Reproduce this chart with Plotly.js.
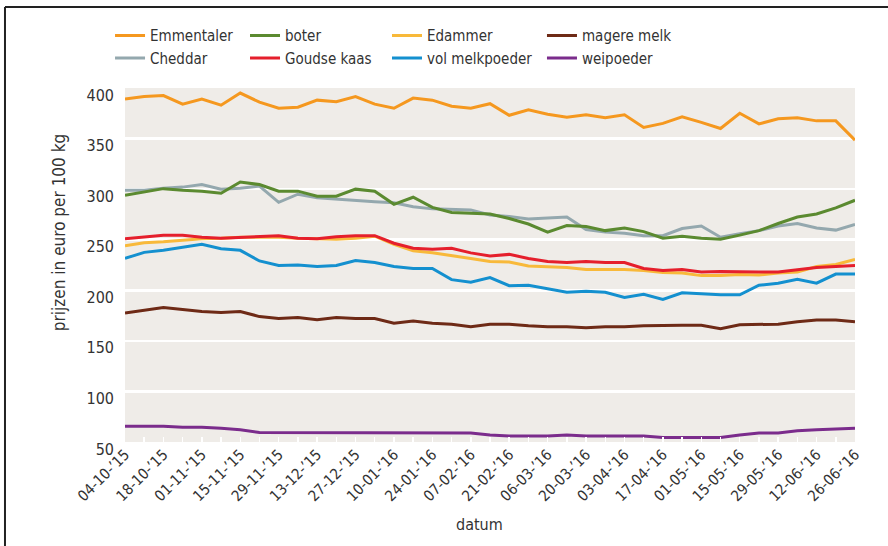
<!DOCTYPE html>
<html><head><meta charset="utf-8">
<script src="https://cdn.plot.ly/plotly-3.0.1.min.js"></script>
<style>html,body{margin:0;padding:0;background:#fff}#chart{width:888px;height:546px}</style>
</head><body><div id="chart"></div>
<script>
const dates = ['2015-10-04','2015-10-11','2015-10-18','2015-10-25','2015-11-01','2015-11-08','2015-11-15','2015-11-22','2015-11-29','2015-12-06','2015-12-13','2015-12-20','2015-12-27','2016-01-03','2016-01-10','2016-01-17','2016-01-24','2016-01-31','2016-02-07','2016-02-14','2016-02-21','2016-02-28','2016-03-06','2016-03-13','2016-03-20','2016-03-27','2016-04-03','2016-04-10','2016-04-17','2016-04-24','2016-05-01','2016-05-08','2016-05-15','2016-05-22','2016-05-29','2016-06-05','2016-06-12','2016-06-19','2016-06-26'];

const emmentaler = [389,391.5,392.5,384,389,383,395,386,380,381,388,386.5,391.5,384,380,390,388,382,380,384.5,373,378.5,374,371,373.5,370.5,373.5,361,365,371.5,366,360,375,364.5,369.5,370.5,367.5,367.5,348.5];
const cheddar = [299,299,301,302,304.5,300,301,303,287,295,291.5,290,288.5,287.5,286.5,282.5,280.5,280,279.5,274.5,273,270.5,271.5,272.5,260,257.5,256.5,254,254,261,263.5,252.5,256,259,263.5,266,261.5,259.5,265];
const boter = [294,297,300.5,299,298,296,307,304.5,298,298,293,293,300,298,285,292,282,277,276,275.5,271,265.5,257.5,264,263,259,261.5,258,251.5,253.5,251.5,250.5,254.5,259,266,272.5,275.5,281.5,289];
const goudse = [251,253,254.5,254.5,252.5,251.5,252.5,253,254,251.5,251,253,254,254,246.5,241.5,240.5,241.5,237,234,235.5,231.5,228.5,227.5,228.5,227.5,227.5,221.5,219.5,220.5,218,218.5,218,218,218,220,222.5,223.5,224.5];
const edammer = [244,247,248,249.5,251,251.5,252.5,252.5,252.5,251.5,251,250.5,251.5,253.5,245.5,239,237,234.5,231.5,228.5,228,224,223,222.5,220.5,220.5,220.5,219.5,217.5,217,214.5,214.5,215.5,215,217,218,223.5,225.5,230.5];
const volmelk = [231.5,237.5,239.5,242.5,245.5,241,239.5,229,224.5,225,223.5,224.5,229.5,227.5,223.5,221.5,221.5,210.5,208,212.5,204.5,205,201.5,198,199,198,193,196,191,197.5,196.5,195.5,195.5,205,207,211,207,216,216];
const magere = [177.5,180,183,181,179,178,179,174,172,173,171,173,172,172,167.5,169.5,167.5,166.5,164,166.5,166.5,165,164,164,163,164,164,165,165.5,165.5,165.5,162,166,166,166.5,169,170.5,170.5,169];
const wei = [65.5,65.5,65.5,64.5,64.5,63.5,62,59.5,59.5,59.5,59.5,59.5,59.5,59.5,59.5,59,59,59,59,57,56,56,56,57,56,56,56,56,54.5,54.5,54.5,54.5,57,59,59,61,62,62.5,63.5];

const FONT = "'Liberation Sans Narrow','Arial Narrow','DejaVu Sans Condensed','Roboto Condensed',sans-serif";
const TXT = '#333333';

function tr(name, y, color, legend, rank) {
  return {x: dates, y: y, name: name, type: 'scatter', mode: 'lines',
          line: {color: color, width: 3}, legend: legend, legendrank: rank, hoverinfo: 'x+y+name'};
}

const data = [
  tr('Cheddar', cheddar, '#94a8ae', 'legend', 2),
  tr('boter', boter, '#5b8a30', 'legend2', 1),
  tr('Edammer', edammer, '#f8b93a', 'legend3', 1),
  tr('Goudse kaas', goudse, '#e51f2c', 'legend2', 2),
  tr('vol melkpoeder', volmelk, '#1490cf', 'legend3', 2),
  tr('Emmentaler', emmentaler, '#f5981f', 'legend', 1),
  tr('magere melk', magere, '#6e2a16', 'legend4', 1),
  tr('weipoeder', wei, '#7b2c8c', 'legend4', 2)
];

function leg(x) {
  return {x: x, y: 1.194, xanchor: 'left', yanchor: 'top', orientation: 'v',
          bgcolor: 'rgba(0,0,0,0)', borderwidth: 0, traceorder: 'normal',
          font: {family: FONT, size: 15, color: TXT}};
}

const layout = {
  width: 888, height: 546,
  margin: {l: 125, r: 33, t: 88, b: 104},
  paper_bgcolor: '#ffffff',
  plot_bgcolor: '#efece8',
  font: {family: FONT, color: TXT},
  showlegend: true,
  legend: leg(-0.0205),
  legend2: leg(0.1644),
  legend3: leg(0.3589),
  legend4: leg(0.5712),
  xaxis: {
    type: 'date', range: [dates[0], dates[dates.length - 1]],
    tickmode: 'linear', tick0: dates[0], dtick: 14 * 86400000,
    tickformat: '%d-%m-’%y', tickangle: -45,
    ticks: 'inside', ticklen: 5, tickwidth: 1.5, tickcolor: '#ffffff',
    minor: {dtick: 7 * 86400000, tick0: dates[0], ticks: 'inside', ticklen: 5, tickwidth: 1.5, tickcolor: '#ffffff', showgrid: false},
    showgrid: false, zeroline: false, showline: false,
    tickfont: {family: FONT, size: 15, color: TXT}
  },
  yaxis: {
    range: [50, 400], tickmode: 'linear', tick0: 50, dtick: 50,
    showgrid: true, gridcolor: '#ffffff', gridwidth: 2.5,
    zeroline: false, showline: false, ticks: '',
    ticklabelshift: 7, ticklabelstandoff: 10,
    tickfont: {family: FONT, size: 16, color: TXT}
  },
  annotations: [
    {text: 'prijzen in euro per 100 kg', xref: 'paper', yref: 'paper', x: -0.0904, y: 0.59,
     xanchor: 'center', yanchor: 'middle', textangle: -90, showarrow: false,
     font: {family: FONT, size: 17, color: TXT}},
    {text: 'datum', xref: 'paper', yref: 'paper', x: 0.485, y: -0.232,
     xanchor: 'center', yanchor: 'middle', showarrow: false,
     font: {family: FONT, size: 16, color: TXT}}
  ],
  shapes: [
    {type: 'line', xref: 'paper', yref: 'paper', x0: -0.1644, x1: 1.05, y0: 1.2288, y1: 1.2288, line: {color: '#222222', width: 2}},
    {type: 'line', xref: 'paper', yref: 'paper', x0: -0.1644, x1: -0.1644, y0: 1.2288, y1: -0.31, line: {color: '#222222', width: 2}}
  ]
};

Plotly.newPlot('chart', data, layout, {displayModeBar: false, staticPlot: true});
</script>
</body></html>
